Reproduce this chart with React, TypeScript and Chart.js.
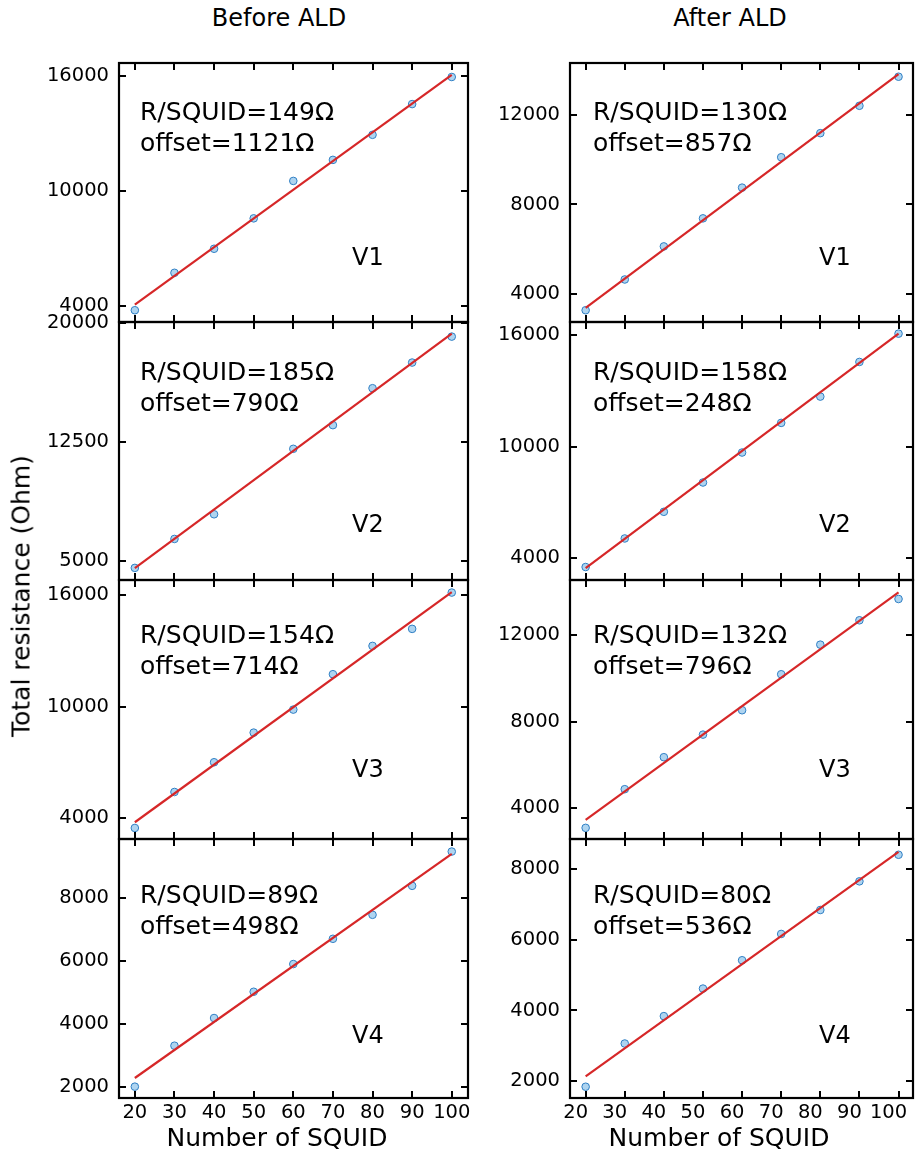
import React, { useEffect, useRef } from "react";
import { Chart, registerables } from "chart.js";

Chart.register(...registerables);

// ---------- data ----------
const squidCounts = [20, 30, 40, 50, 60, 70, 80, 90, 100];
const xTickValues = [20, 30, 40, 50, 60, 70, 80, 90, 100];
const deviceLabels = ["V1", "V2", "V3", "V4"];
const columnTitles = ["Before ALD", "After ALD"];

const beforeV1 = [3792, 5740, 6992, 8574, 10522, 11618, 12922, 14522, 15932];
const beforeV2 = [4562, 6385, 7937, null, 12060, 13550, 15875, 17490, 19124];
const beforeV3 = [3482, 5415, 7012, 8603, 9839, 11741, 13261, 14175, 16125];
const beforeV4 = [2000, 3302, 4181, 5016, 5896, 6699, 7461, 8382, 9471];

const afterV1 = [3285, 4656, 6131, 7382, 8752, 10108, 11181, 12402, 13698];
const afterV2 = [3500, 5041, 6480, 8060, 9677, 11277, 12695, 14565, 16091];
const afterV3 = [3094, 4880, 6357, 7400, 8526, 10187, 11554, 12680, 13663];
const afterV4 = [1839, 3064, 3840, 4621, 5424, 6169, 6848, 7660, 8413];

const rPerSquidBefore = [149, 185, 154, 89];
const offsetBefore = [1121, 790, 714, 498];
const rPerSquidAfter = [130, 158, 132, 80];
const offsetAfter = [857, 248, 796, 536];

// fitted line end points (N = 20 and N = 100)
const fitX = [20, 100];
const fitStartBefore = [4089, 4543, 3789, 2276];
const fitEndBefore = [16040, 19313, 16147, 9398];
const fitStartAfter = [3390, 3446, 3463, 2130];
const fitEndAfter = [13818, 16091, 13972, 8498];

// axis ranges and ticks
const xRangeBefore = [16.0, 104.1];
const xRangeAfter = [16.0, 103.7];
const yMinBefore = [3180, 3800, 2890, 1640];
const yMaxBefore = [16660, 20044, 16800, 9870];
const yMinAfter = [2760, 2800, 2580, 1520];
const yMaxAfter = [14310, 16720, 14540, 8860];
const yTicksBefore = [
  [4000, 10000, 16000],
  [5000, 12500, 20000],
  [4000, 10000, 16000],
  [2000, 4000, 6000, 8000],
];
const yTicksAfter = [
  [4000, 8000, 12000],
  [4000, 10000, 16000],
  [4000, 8000, 12000],
  [2000, 4000, 6000, 8000],
];

// ---------- layout ----------
const FONT = '"DejaVu Sans", sans-serif';
const plotTops = [63, 322, 580, 839];
const plotBottoms = [322, 580, 839, 1098];
const colCanvasLeft = [0, 480];
const colCanvasWidth = [480, 438];
const colPlotLeft = [119, 570];
const colPlotRight = [468, 917];
const textDx = [21, 23];
const vDx = [233, 249];
const textDy = [57, 58, 63, 64];
const vDy = [202, 210, 197, 204];
const PAD_T = 20;

type PanelProps = {
  col: number;
  row: number;
};

function Panel({ col, row }: PanelProps) {
  const ref = useRef<HTMLCanvasElement | null>(null);
  const isBottom = row === 3;
  const top = plotTops[row] - PAD_T;
  const plotH = plotBottoms[row] - plotTops[row];
  const xAxisH = isBottom ? 30 : 0;
  const padB = isBottom ? 14 : 20;
  const height = plotH + PAD_T + xAxisH + padB;
  const width = colCanvasWidth[col];
  const yW = colPlotLeft[col] - colCanvasLeft[col];
  const padR = colCanvasLeft[col] + width - colPlotRight[col];

  useEffect(() => {
    if (!ref.current) return;
    const values = (col === 0 ? [beforeV1, beforeV2, beforeV3, beforeV4] : [afterV1, afterV2, afterV3, afterV4])[row];
    const fitStart = (col === 0 ? fitStartBefore : fitStartAfter)[row];
    const fitEnd = (col === 0 ? fitEndBefore : fitEndAfter)[row];
    const yMin = (col === 0 ? yMinBefore : yMinAfter)[row];
    const yMax = (col === 0 ? yMaxBefore : yMaxAfter)[row];
    const yTicks = (col === 0 ? yTicksBefore : yTicksAfter)[row];
    const xRange = col === 0 ? xRangeBefore : xRangeAfter;
    const slope = (col === 0 ? rPerSquidBefore : rPerSquidAfter)[row];
    const offset = (col === 0 ? offsetBefore : offsetAfter)[row];

    const points = squidCounts
      .map((n, i) => ({ x: n, y: values[i] }))
      .filter((p) => p.y !== null) as { x: number; y: number }[];
    const fitLine = [
      { x: fitX[0], y: fitStart },
      { x: fitX[1], y: fitEnd },
    ];

    const decor = {
      id: "decor",
      afterDatasetsDraw(chart: any) {
        const { ctx, chartArea: a, scales } = chart;
        ctx.save();
        ctx.strokeStyle = "#000";
        ctx.lineWidth = 2;
        const L = 7;
        ctx.beginPath();
        for (const v of xTickValues) {
          const px = Math.round(scales.x.getPixelForValue(v));
          ctx.moveTo(px, a.top);
          ctx.lineTo(px, a.top + L);
          ctx.moveTo(px, a.bottom);
          ctx.lineTo(px, a.bottom - L);
        }
        for (const v of yTicks) {
          const py = Math.round(scales.y.getPixelForValue(v));
          ctx.moveTo(a.left, py);
          ctx.lineTo(a.left + L, py);
          ctx.moveTo(a.right, py);
          ctx.lineTo(a.right - L, py);
        }
        ctx.stroke();
        ctx.lineWidth = 2.2;
        ctx.strokeRect(a.left, a.top, a.right - a.left, a.bottom - a.top);
        ctx.fillStyle = "#000";
        ctx.textBaseline = "alphabetic";
        ctx.textAlign = "left";
        ctx.font = `25px ${FONT}`;
        ctx.fillText(`R/SQUID=${slope}Ω`, a.left + textDx[col], a.top + textDy[row]);
        ctx.fillText(`offset=${offset}Ω`, a.left + textDx[col], a.top + textDy[row] + 31);
        ctx.font = `24px ${FONT}`;
        ctx.fillText(deviceLabels[row], a.left + vDx[col], a.top + vDy[row]);
        ctx.restore();
      },
    };

    const chart = new Chart(ref.current, {
      type: "scatter",
      data: {
        datasets: [
          {
            type: "line",
            data: fitLine,
            borderColor: "#d62728",
            borderWidth: 2.2,
            pointRadius: 0,
            fill: false,
            order: 0,
          } as any,
          {
            type: "scatter",
            data: points,
            pointRadius: 3.8,
            pointBackgroundColor: "#aed4f0",
            pointBorderColor: "#2f7fc4",
            pointBorderWidth: 1,
            order: 1,
          } as any,
        ],
      },
      plugins: [decor],
      options: {
        responsive: false,
        animation: false,
        devicePixelRatio: 1,
        layout: { padding: { top: PAD_T, bottom: padB, left: 0, right: padR } },
        plugins: {
          legend: { display: false },
          tooltip: { enabled: false },
          title: { display: false },
        },
        scales: {
          x: {
            type: "linear",
            position: "bottom",
            min: xRange[0],
            max: xRange[1],
            display: isBottom,
            grid: { display: false, drawTicks: false },
            border: { display: false },
            afterBuildTicks: (s: any) => {
              s.ticks = xTickValues.map((v) => ({ value: v }));
            },
            afterFit: (s: any) => {
              s.height = xAxisH;
              s.paddingLeft = 0;
              s.paddingRight = 0;
            },
            ticks: {
              autoSkip: false,
              maxRotation: 0,
              minRotation: 0,
              padding: 3,
              color: "#000",
              labelOffset: col === 1 ? -10 : 0,
              font: { family: FONT, size: 19.5 },
              callback: (v: any) => String(v),
            },
          },
          y: {
            type: "linear",
            position: "left",
            min: yMin,
            max: yMax,
            grid: { display: false, drawTicks: false },
            border: { display: false },
            afterBuildTicks: (s: any) => {
              s.ticks = yTicks.map((v) => ({ value: v }));
            },
            afterFit: (s: any) => {
              s.width = yW;
              s.paddingTop = 0;
              s.paddingBottom = 0;
            },
            ticks: {
              autoSkip: false,
              padding: 10,
              color: "#000",
              font: { family: FONT, size: 19.5 },
              callback: (v: any) => String(v),
            },
          },
        },
      } as any,
    });
    return () => chart.destroy();
  }, [col, row]);

  return (
    <canvas
      ref={ref}
      width={width}
      height={height}
      style={{
        position: "absolute",
        left: colCanvasLeft[col],
        top,
        width,
        height,
      }}
    />
  );
}

export default function App() {
  const textBase: React.CSSProperties = {
    position: "absolute",
    fontFamily: FONT,
    color: "#000",
    lineHeight: 1,
    whiteSpace: "nowrap",
  };
  return (
    <div
      style={{
        position: "absolute",
        left: 0,
        top: 0,
        width: 918,
        height: 1155,
        background: "#fff",
        overflow: "hidden",
      }}
    >
      {[0, 1, 2, 3].map((r) => (
        <Panel key={`b${r}`} col={0} row={r} />
      ))}
      {[0, 1, 2, 3].map((r) => (
        <Panel key={`a${r}`} col={1} row={r} />
      ))}
      <div style={{ ...textBase, fontSize: 24, left: 279, top: 5.5, transform: "translateX(-50%)" }}>
        {columnTitles[0]}
      </div>
      <div style={{ ...textBase, fontSize: 24, left: 730, top: 5.5, transform: "translateX(-50%)" }}>
        {columnTitles[1]}
      </div>
      <div style={{ ...textBase, fontSize: 25, left: 277, top: 1124.5, transform: "translateX(-50%)" }}>
        Number of SQUID
      </div>
      <div style={{ ...textBase, fontSize: 25, left: 719, top: 1124.5, transform: "translateX(-50%)" }}>
        Number of SQUID
      </div>
      <div
        style={{
          ...textBase,
          fontSize: 25,
          left: 21,
          top: 595.5,
          transform: "translate(-50%, -50%) rotate(-90deg)",
        }}
      >
        Total resistance (Ohm)
      </div>
    </div>
  );
}
